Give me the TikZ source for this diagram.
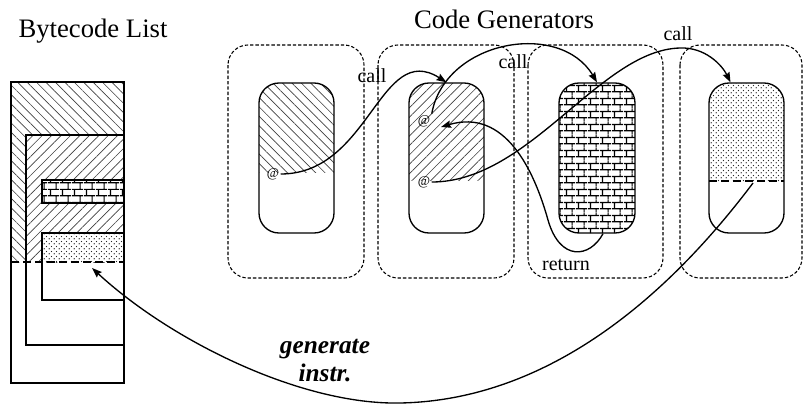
\documentclass[tikz,border=0pt]{standalone}
\usepackage{fontspec}
\setmainfont{Liberation Serif}
\usetikzlibrary{patterns,patterns.meta,arrows.meta,positioning}

% brick wall for the third generator
\pgfdeclarepatternformonly{brickwall}{\pgfqpoint{0pt}{0pt}}{\pgfqpoint{9pt}{9.6pt}}{\pgfqpoint{9pt}{9.6pt}}{
  \pgfsetlinewidth{0.9pt}
  \pgfpathmoveto{\pgfqpoint{0pt}{2.4pt}}\pgfpathlineto{\pgfqpoint{9pt}{2.4pt}}
  \pgfpathmoveto{\pgfqpoint{0pt}{7.2pt}}\pgfpathlineto{\pgfqpoint{9pt}{7.2pt}}
  \pgfpathmoveto{\pgfqpoint{2pt}{2.4pt}}\pgfpathlineto{\pgfqpoint{2pt}{7.2pt}}
  \pgfpathmoveto{\pgfqpoint{6.5pt}{7.2pt}}\pgfpathlineto{\pgfqpoint{6.5pt}{9.6pt}}
  \pgfpathmoveto{\pgfqpoint{6.5pt}{0pt}}\pgfpathlineto{\pgfqpoint{6.5pt}{2.4pt}}
  \pgfusepath{stroke}}

% staggered dots for the fourth generator
\pgfdeclarepatternformonly{stipple}{\pgfqpoint{0pt}{0pt}}{\pgfqpoint{3.6pt}{3.6pt}}{\pgfqpoint{3.6pt}{3.6pt}}{
  \pgfpathcircle{\pgfqpoint{0.9pt}{0.9pt}}{0.55pt}
  \pgfpathcircle{\pgfqpoint{2.7pt}{2.7pt}}{0.55pt}
  \pgfusepath{fill}}

\tikzset{
  genbox/.style={draw,line width=1pt,rounded corners=15pt,
    minimum width=56.25pt,minimum height=112.5pt,inner sep=0pt},
  groupbox/.style={line width=0.8pt,dash pattern=on 2.5pt off 1.5pt,rounded corners=15pt},
  listbox/.style={draw,line width=1pt},
  cutline/.style={line width=2.2pt,dash pattern=on 6pt off 3pt},
  hatchleft/.style={pattern={Lines[angle=-45,distance=5pt,line width=0.5pt]},pattern color=black!75},
  hatchright/.style={pattern={Lines[angle=45,distance=5pt,line width=0.5pt]},pattern color=black!75},
  brickfill/.style={pattern=brickwall,pattern color=black},
  dotfill/.style={pattern=stipple,pattern color=black!85},
  callarrow/.style={line width=1pt,-{Stealth[length=7.5pt,width=5.5pt,inset=1pt]}},
  atmark/.style={inner sep=1pt,font=\fontsize{10}{12}\selectfont},
  callnote/.style={inner sep=0pt,font=\fontsize{15}{18}\selectfont},
  heading/.style={inner sep=0pt,anchor=base,font=\fontsize{20}{24}\selectfont}
}

\begin{document}
\begin{tikzpicture}[x=0.75pt,y=-0.75pt]
  \useasboundingbox (0,0) rectangle (804,404);

  \node[heading] (listtitle) at (93,37) {Bytecode List};
  \node[heading] (gentitle) at (504,28) {Code Generators};

  % bytecode list
  \fill[hatchleft] (11,82) rectangle (124,262);
  \fill[white] (26,135) rectangle (124,262);
  \fill[hatchright] (26,135) rectangle (124,262);
  \fill[white] (42,180) rectangle (124,203);
  \fill[brickfill] (42,180) rectangle (124,203);
  \fill[white] (42,233) rectangle (124,262);
  \fill[dotfill] (42,233) rectangle (124,262);
  \draw[listbox] (11,82) rectangle (124,383);
  \draw[listbox] (26,135) rectangle (124,345);
  \draw[listbox] (42,180) rectangle (124,203);
  \draw[listbox] (42,233) rectangle (124,300);
  \draw[cutline] (11,262) -- (124,262);
  \coordinate (slot) at (92,268);

  % generators
  \draw[groupbox] (228,45) rectangle (364,278);
  \draw[groupbox] (378,45) rectangle (514,278);
  \draw[groupbox] (528,45) rectangle (663,278);
  \draw[groupbox] (680,45) rectangle (802,278);

  \begin{scope}
    \clip[rounded corners=15pt] (259,83) rectangle (334,233);
    \fill[hatchleft] (259,83) rectangle (334,172);
  \end{scope}
  \node[genbox] (gen1) at (296.5,158) {};

  \begin{scope}
    \clip[rounded corners=15pt] (409,83) rectangle (484,233);
    \fill[hatchright] (409,83) rectangle (484,180);
  \end{scope}
  \node[genbox] (gen2) at (446.5,158) {};

  \begin{scope}
    \clip[rounded corners=15pt] (559,83) rectangle (635,233);
    \fill[brickfill] (559,83) rectangle (635,233);
  \end{scope}
  \node[genbox,minimum width=57pt] (gen3) at (597,158) {};

  \begin{scope}
    \clip[rounded corners=15pt] (709,83) rectangle (784,233);
    \fill[dotfill] (709,83) rectangle (784,181);
  \end{scope}
  \node[genbox] (gen4) at (746.5,158) {};
  \draw[cutline] (709,181) -- (784,181);
  \coordinate (cut4) at (753,183);

  \node[atmark] (at1) at (273,174) {@};
  \node[atmark] (at2) at (424,121) {@};
  \node[atmark] (at3) at (424,182) {@};

  % calls and returns
  \draw[callarrow] (at1.east) .. controls (370,174) and (380,40) .. (gen2.north);
  \draw[callarrow] (at2.north east) .. controls (445,40) and (560,20) .. (gen3.north);
  \draw[callarrow] (at3.east) .. controls (530,182) and (600,50) .. (680,48)
    .. controls (705,47) and (722,65) .. ([xshift=-12pt]gen4.north);
  \draw[callarrow] ([xshift=4.5pt]gen3.south) .. controls (590,258) and (560,262) .. (548,220)
    .. controls (534,170) and (505,108) .. (441,127);
  \draw[callarrow] (cut4) .. controls (680,280) and (560,400) .. (400,403)
    .. controls (300,405) and (170,340) .. (slot);

  \node[callnote] (call1) at (372,76) {call};
  \node[callnote] (call2) at (513,62) {call};
  \node[callnote] (call3) at (678,34) {call};
  \node[callnote] (ret) at (566,265) {return};
  \node[inner sep=0pt,align=center,font=\fontsize{19}{21}\selectfont\bfseries\itshape]
    (gen) at (325,361) {generate\\instr.};
\end{tikzpicture}
\end{document}
